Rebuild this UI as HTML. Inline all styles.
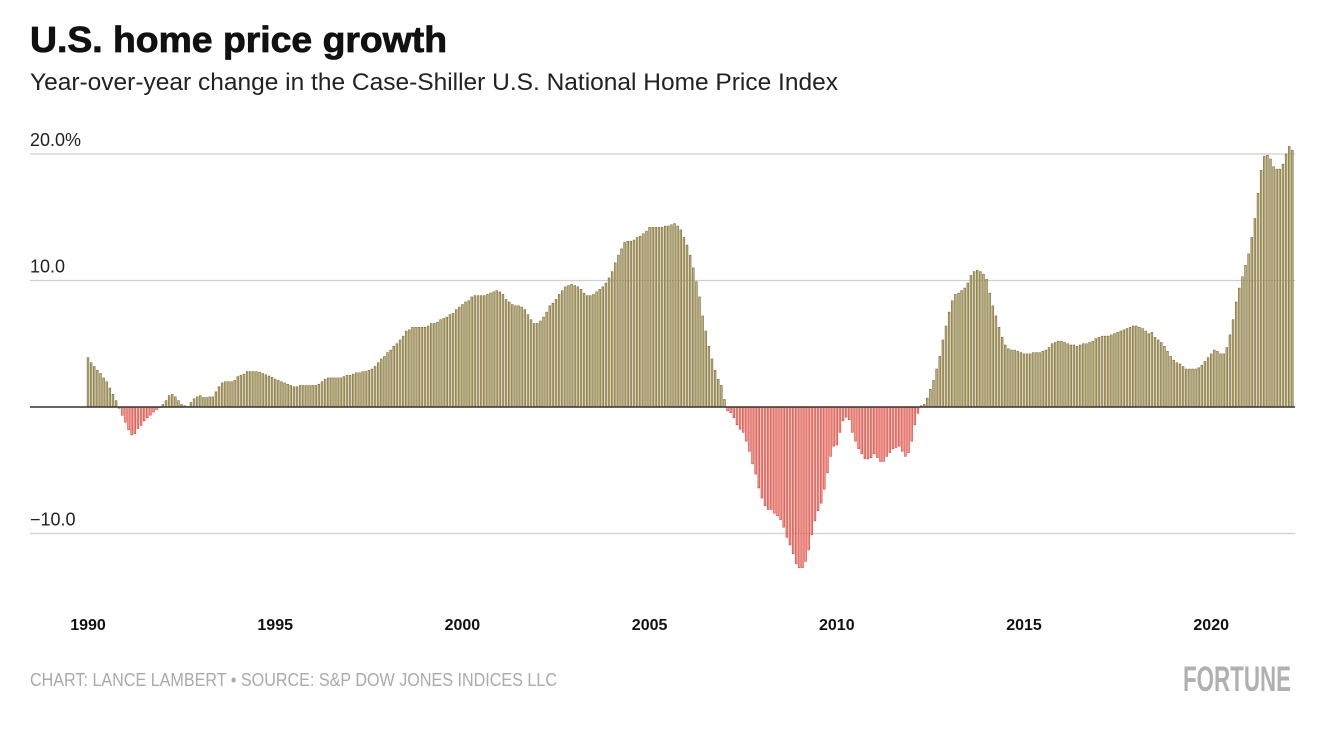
<!DOCTYPE html>
<html><head><meta charset="utf-8">
<style>
html,body{margin:0;padding:0;background:#fff;}
svg{display:block;}
</style></head>
<body>
<svg id="chart" width="1344" height="734" viewBox="0 0 1344 734" xmlns="http://www.w3.org/2000/svg">
  <text x="30" y="52" font-family="Liberation Sans, sans-serif" font-weight="bold" font-size="36" textLength="417" lengthAdjust="spacingAndGlyphs" fill="#111" stroke="#111" stroke-width="0.8">U.S. home price growth</text>
  <text x="30" y="90" font-family="Liberation Sans Narrow, Liberation Sans, sans-serif" font-size="24" textLength="808" lengthAdjust="spacingAndGlyphs" fill="#222">Year-over-year change in the Case-Shiller U.S. National Home Price Index</text>
  <g id="grid"></g>
  <g id="bars"></g>
  <g id="axes"></g>
  <text x="30" y="686" font-family="Liberation Sans Narrow, Liberation Sans, sans-serif" font-size="18" textLength="527" lengthAdjust="spacingAndGlyphs" fill="#aaa">CHART: LANCE LAMBERT • SOURCE: S&amp;P DOW JONES INDICES LLC</text>
  <text x="1183" y="691" font-family="Liberation Sans Narrow, Liberation Sans, sans-serif" font-weight="bold" font-size="35" textLength="108" lengthAdjust="spacingAndGlyphs" fill="#b0b0b0">FORTUNE</text>
</svg>
<script>
const startYear = 1990;
const values = [
3.9,3.5,3.2,2.9,2.65,2.3,2.0,1.5,1.0,0.5,
-0.1,-0.65,-1.2,-1.8,-2.2,-2.1,-1.7,-1.45,-1.1,-0.85,
-0.65,-0.4,-0.2,-0.05,0.2,0.5,0.9,1.0,0.8,0.5,
0.2,0.1,0.05,0.35,0.65,0.8,0.9,0.75,0.75,0.8,
0.8,1.2,1.6,1.9,2.0,2.0,2.0,2.1,2.4,2.5,
2.6,2.8,2.8,2.8,2.8,2.75,2.65,2.55,2.45,2.35,
2.2,2.1,2.0,1.9,1.8,1.7,1.6,1.6,1.7,1.7,
1.7,1.7,1.7,1.7,1.8,2.0,2.2,2.3,2.3,2.3,
2.3,2.3,2.4,2.5,2.5,2.6,2.7,2.7,2.8,2.8,
2.9,3.0,3.2,3.5,3.8,4.0,4.3,4.5,4.8,5.0,
5.3,5.6,6.0,6.1,6.3,6.3,6.3,6.3,6.3,6.4,
6.6,6.6,6.7,6.9,7.0,7.1,7.3,7.4,7.7,7.9,
8.1,8.3,8.4,8.7,8.8,8.8,8.8,8.8,8.9,9.0,
9.1,9.2,9.1,8.9,8.5,8.3,8.1,8.0,8.0,7.9,
7.7,7.3,6.9,6.6,6.6,6.8,7.1,7.5,8.0,8.2,
8.5,8.9,9.2,9.5,9.6,9.7,9.6,9.5,9.3,9.0,
8.8,8.8,8.9,9.1,9.3,9.5,9.8,10.2,10.7,11.4,
12.0,12.5,13.0,13.1,13.1,13.2,13.4,13.5,13.7,13.9,
14.2,14.2,14.2,14.2,14.2,14.3,14.3,14.4,14.5,14.3,
14.0,13.4,12.8,12.0,11.0,9.9,8.7,7.2,6.0,4.8,
3.8,2.9,2.2,1.7,0.6,-0.3,-0.45,-0.85,-1.4,-1.75,
-2.0,-2.7,-3.5,-4.5,-5.3,-6.4,-7.2,-7.8,-8.1,-8.1,
-8.4,-8.6,-8.9,-9.5,-10.3,-10.9,-11.6,-12.4,-12.7,-12.7,
-12.2,-11.3,-10.1,-9.0,-8.2,-7.6,-6.5,-5.2,-3.9,-3.1,
-3.0,-2.0,-1.1,-0.8,-1.0,-2.0,-2.7,-3.3,-3.7,-4.1,
-4.1,-4.0,-3.7,-4.0,-4.3,-4.3,-3.9,-3.6,-3.3,-3.2,
-3.1,-3.5,-3.9,-3.6,-2.7,-1.4,-0.5,0.1,0.2,0.7,
1.4,2.1,3.0,4.0,5.3,6.4,7.5,8.4,8.9,9.0,
9.2,9.4,9.8,10.4,10.7,10.8,10.7,10.5,10.1,9.0,
8.0,7.2,6.3,5.5,4.9,4.6,4.5,4.5,4.4,4.3,
4.2,4.2,4.2,4.3,4.3,4.3,4.4,4.5,4.7,5.0,
5.1,5.2,5.2,5.1,5.0,4.9,4.9,4.8,4.9,5.0,
5.0,5.1,5.2,5.4,5.5,5.6,5.6,5.6,5.7,5.8,
5.9,6.0,6.1,6.2,6.3,6.4,6.4,6.3,6.2,6.0,
5.8,5.9,5.5,5.3,5.1,4.8,4.4,4.0,3.7,3.5,
3.4,3.2,3.0,3.0,3.0,3.0,3.1,3.3,3.6,3.9,
4.2,4.5,4.4,4.2,4.2,4.7,5.7,6.9,8.3,9.4,
10.3,11.2,12.1,13.4,14.9,16.9,18.7,19.8,19.9,19.6,
19.0,18.8,18.8,19.2,20.0,20.6,20.3
];
const yTicks = [20, 10, -10];
const yTickLabels = ["20.0%", "10.0", "\u221210.0"];
const xTickYears = [1990, 1995, 2000, 2005, 2010, 2015, 2020];

const NS = "http://www.w3.org/2000/svg";
const X0 = 88, STEP = 3.12, ZERO_Y = 407, UNIT = 12.65;
function xScale(i){ return X0 + STEP * i; }
function yScale(v){ return ZERO_Y - v * UNIT; }

const grid = document.getElementById('grid');
const axes = document.getElementById('axes');
const barsG = document.getElementById('bars');

yTicks.forEach((t, k) => {
  const ln = document.createElementNS(NS, 'line');
  
  
  ln.setAttribute('x1', 30); ln.setAttribute('x2', 1295);
  ln.setAttribute('y1', yScale(t)); ln.setAttribute('y2', yScale(t));
  ln.setAttribute('stroke', '#cfcfcf'); ln.setAttribute('stroke-width', '1.2');
  grid.appendChild(ln);
  const tx = document.createElementNS(NS, 'text');
  
  
  tx.setAttribute('x', 30); tx.setAttribute('y', yScale(t) - 8);
  tx.setAttribute('font-family', 'Liberation Sans Narrow, Liberation Sans, sans-serif');
  tx.setAttribute('font-size', '18'); tx.setAttribute('fill', '#222');
  tx.textContent = yTickLabels[k];
  axes.appendChild(tx);
});

values.forEach((v, i) => {
  const r = document.createElementNS(NS, 'rect');
  
  
  const y = v >= 0 ? yScale(v) : ZERO_Y;
  r.setAttribute('x', xScale(i) - 0.9);
  r.setAttribute('y', y);
  r.setAttribute('width', 1.8);
  r.setAttribute('height', Math.abs(yScale(v) - ZERO_Y));
  r.setAttribute('fill', v >= 0 ? '#bcaf80' : '#f29a8c');
  r.setAttribute('stroke', v >= 0 ? '#7a6c34' : '#d4403a');
  r.setAttribute('stroke-width', '0.6');
  barsG.appendChild(r);
});

const zl = document.createElementNS(NS, 'line');


zl.setAttribute('x1', 30); zl.setAttribute('x2', 1295);
zl.setAttribute('y1', ZERO_Y); zl.setAttribute('y2', ZERO_Y);
zl.setAttribute('stroke', '#333'); zl.setAttribute('stroke-width', '1.5');
axes.appendChild(zl);

xTickYears.forEach(yr => {
  const tx = document.createElementNS(NS, 'text');
  
  
  tx.setAttribute('x', xScale((yr - startYear) * 12));
  tx.setAttribute('y', 630);
  tx.setAttribute('text-anchor', 'middle');
  tx.setAttribute('font-family', 'Liberation Sans, sans-serif');
  tx.setAttribute('font-weight', 'bold');
  tx.setAttribute('font-size', '16'); tx.setAttribute('fill', '#111');
  tx.textContent = yr;
  axes.appendChild(tx);
});
</script>
</body></html>
